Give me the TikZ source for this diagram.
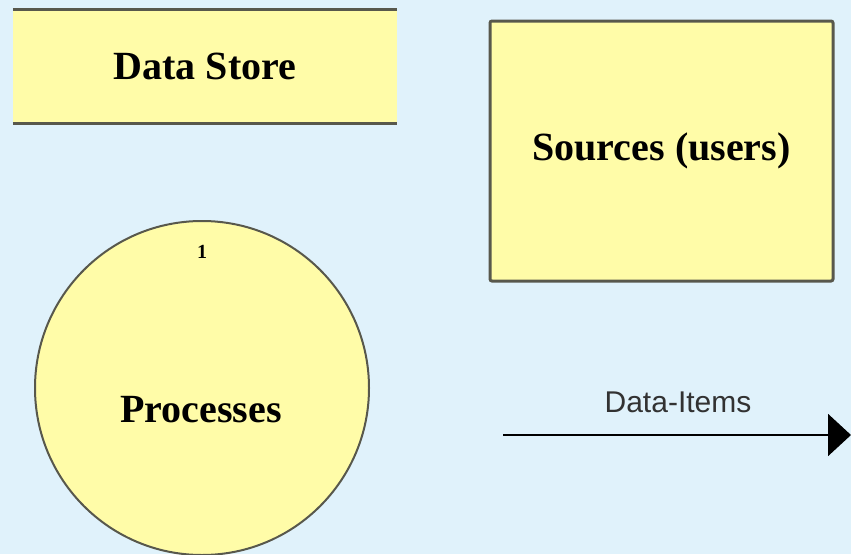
\documentclass[tikz,border=0pt]{standalone}
\usepackage{fontspec}
\setmainfont{Liberation Serif}
\newfontfamily\flowfont{Liberation Sans}
\usetikzlibrary{arrows.meta}

\definecolor{bgblue}{RGB}{224,242,251}
\definecolor{boxyellow}{RGB}{255,252,168}
\definecolor{edgegray}{RGB}{88,88,76}
\definecolor{flowgray}{RGB}{50,50,50}

\begin{document}
\begin{tikzpicture}[x=1pt,y=-1pt,
    bigtext/.style={font=\fontsize{40}{44}\selectfont\bfseries},
    sourcebox/.style={draw=edgegray, line width=3pt, fill=boxyellow, rounded corners=2pt, bigtext},
    storebox/.style={fill=boxyellow, bigtext},
    procbox/.style={circle, draw=edgegray, line width=2pt, fill=boxyellow},
    flowarrow/.style={draw=black, line width=2pt, -{Triangle[length=23pt,width=42pt]}}]

    % Background and page size
    \fill[bgblue] (0,0) rectangle (851,554);
    \useasboundingbox (0,0) rectangle (851,554);

    % Data store: open box with lines above and below
    \node[storebox, minimum width=384pt, minimum height=113pt] (store) at (205,66.5) {Data Store};
    \draw[edgegray, line width=3pt] (store.north west) -- (store.north east);
    \draw[edgegray, line width=3pt] (store.south west) -- (store.south east);

    % Source / external entity
    \node[sourcebox, minimum width=343pt, minimum height=260pt] (source) at (661.5,151) {Sources (users)};

    % Process bubble
    \node[procbox, minimum size=334pt] (proc) at (202,388) {};
    \node[font=\fontsize{20}{22}\selectfont\bfseries] (procnum) at (202,252) {1};
    \node[bigtext] (proctext) at (201,410) {Processes};

    % Data flow
    \coordinate (flowstart) at (503,435);
    \coordinate (flowend) at (851,435);
    \draw[flowarrow] (flowstart) -- (flowend);
    \node[font=\flowfont\fontsize{30}{34}\selectfont, text=flowgray] (flowlabel) at (678,402) {Data-Items};

\end{tikzpicture}
\end{document}
